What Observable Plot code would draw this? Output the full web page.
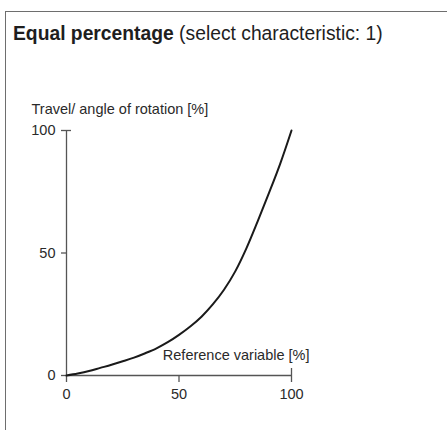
<!DOCTYPE html>
<html>
<head>
<meta charset="utf-8">
<script src="https://cdn.jsdelivr.net/npm/d3@7"></script>
<script src="https://cdn.jsdelivr.net/npm/@observablehq/plot@0.6"></script>
<style>
  html, body { margin: 0; padding: 0; background: #fff; }
  #wrap { position: relative; width: 447px; height: 430px; overflow: hidden; font-family: "Liberation Sans", Arial, sans-serif; }
  #frame { position: absolute; left: 5px; top: 11px; right: -2px; bottom: -2px; border-top: 1.5px solid #6e6e6e; border-left: 1.5px solid #6e6e6e; }
  #title { position: absolute; left: 13px; top: 22px; font-size: 19.3px; line-height: 24px; color: #1e1e1e; white-space: nowrap; }
  #title b { font-weight: bold; }
  #chart { position: absolute; left: 0; top: 0; }
</style>
</head>
<body>
<div id="wrap">
  <div id="frame"></div>
  <div id="title"><b>Equal percentage</b> (select characteristic: 1)</div>
  <div id="chart"></div>
</div>
<script>
const referenceVariable = [0, 5, 10, 15, 20, 25, 30, 35, 40, 45, 50, 55, 60, 65, 70, 75, 80, 85, 90, 95, 100];
const travel = [0, 0.8, 1.8, 3.1, 4.4, 5.8, 7.3, 9.1, 11.1, 13.6, 16.6, 20, 24, 29, 35, 42.5, 52, 63, 74.5, 86.5, 100];
const xTicks = [0, 50, 100];
const yTicks = [0, 50, 100];
const xLabel = "Reference variable [%]";
const yLabel = "Travel/ angle of rotation [%]";

const data = referenceVariable.map((x, i) => ({x, y: travel[i]}));
const axisColor = "#555";
const textColor = "#2a2a2a";

const chart = Plot.plot({
  width: 447,
  height: 430,
  marginLeft: 66,
  marginRight: 156,
  marginTop: 130,
  marginBottom: 55,
  style: {fontFamily: "Liberation Sans, Arial, sans-serif", fontSize: "14px", color: textColor, background: "transparent", overflow: "visible"},
  x: {domain: [0, 100]},
  y: {domain: [0, 100]},
  marks: [
    Plot.ruleX([0], {y1: 0, y2: 100, stroke: axisColor, strokeWidth: 1.3}),
    Plot.ruleY([0], {x1: 0, x2: 100, stroke: axisColor, strokeWidth: 1.3}),
    Plot.axisX({ticks: xTicks, tickSize: 7, tickPadding: 6, label: null, stroke: axisColor, strokeWidth: 1.3, fontSize: 14.5, fill: textColor}),
    Plot.axisY({ticks: yTicks, tickSize: 5, tickPadding: 6, label: null, stroke: axisColor, strokeWidth: 1.3, fontSize: 14.5, fill: textColor}),
    Plot.ruleX([100], {y1: 0, y2: 0, insetTop: -7, insetBottom: 0, stroke: axisColor, strokeWidth: 1.3}),
    Plot.ruleY([100], {x1: 0, x2: 0, insetLeft: 0, insetRight: -5, stroke: axisColor, strokeWidth: 1.3}),
    Plot.line(data, {x: "x", y: "y", stroke: "#1a1a1a", strokeWidth: 2, curve: "catmull-rom"}),
    Plot.text([xLabel], {x: 100, y: 0, text: d => d, textAnchor: "end", dx: 18, dy: -20, fontSize: 14.5, fill: textColor}),
    Plot.text([yLabel], {x: 0, y: 100, text: d => d, textAnchor: "start", dx: -35, dy: -21, fontSize: 14.5, fill: textColor})
  ]
});
document.getElementById("chart").appendChild(chart);
</script>
</body>
</html>
